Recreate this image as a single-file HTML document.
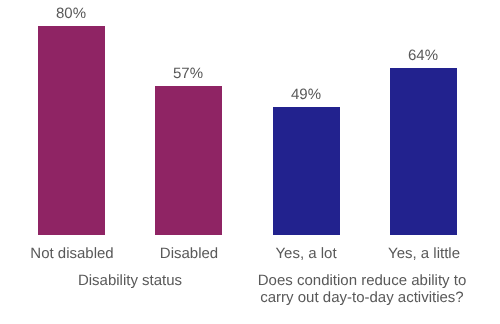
<!DOCTYPE html>
<html><head><meta charset="utf-8">
<style>
html,body{margin:0;padding:0;background:#fff;}
body{width:500px;height:324px;position:relative;overflow:hidden;font-family:"Liberation Sans",sans-serif;color:#595959;}
.bar{position:absolute;width:67px;height:auto;bottom:89px;}
.m{background:#8f2464;}
.b{background:#22228e;}
.t{position:absolute;white-space:nowrap;text-align:center;font-size:15px;line-height:17px;will-change:transform;text-rendering:geometricPrecision;transform:translateY(0.7px);}
</style></head><body>
<div class="bar m" style="left:38px;top:26px;"></div>
<div class="bar m" style="left:155px;top:86px;"></div>
<div class="bar b" style="left:273px;top:107px;"></div>
<div class="bar b" style="left:390px;top:68px;"></div>

<div class="t" style="left:21px;top:4px;width:100px;">80%</div>
<div class="t" style="left:138px;top:64px;width:100px;">57%</div>
<div class="t" style="left:256px;top:85px;width:100px;">49%</div>
<div class="t" style="left:373px;top:46px;width:100px;">64%</div>

<div class="t" style="left:22px;top:244px;width:100px;">Not disabled</div>
<div class="t" style="left:139px;top:244px;width:100px;">Disabled</div>
<div class="t" style="left:256px;top:244px;width:100px;">Yes, a lot</div>
<div class="t" style="left:374px;top:244px;width:100px;">Yes, a little</div>

<div class="t" style="left:30px;top:271px;width:200px;">Disability status</div>
<div class="t" style="left:212px;top:271px;width:300px;">Does condition reduce ability to</div>
<div class="t" style="left:212px;top:288px;width:300px;">carry out day-to-day activities?</div>
</body></html>
